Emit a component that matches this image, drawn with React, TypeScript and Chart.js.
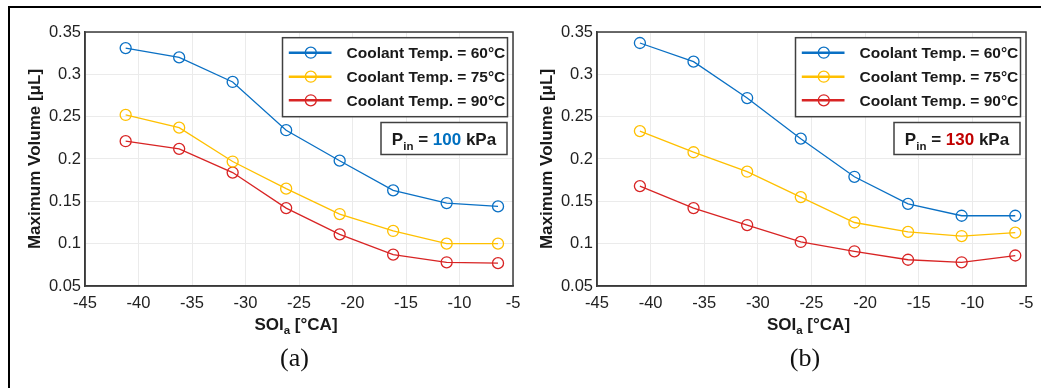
import React, { useEffect, useRef } from 'react';
import { Chart, registerables } from 'chart.js';

Chart.register(...registerables);

// ---- data ----
const xLeft = [-41.2, -36.2, -31.2, -26.2, -21.2, -16.2, -11.2, -6.4];
const xRight = [-41, -36, -31, -26, -21, -16, -11, -6];

const left60 = [0.331, 0.32, 0.291, 0.234, 0.198, 0.163, 0.148, 0.144];
const left75 = [0.252, 0.237, 0.197, 0.165, 0.135, 0.115, 0.1, 0.1];
const left90 = [0.221, 0.212, 0.184, 0.142, 0.111, 0.087, 0.078, 0.077];

const right60 = [0.337, 0.315, 0.272, 0.224, 0.179, 0.147, 0.133, 0.133];
const right75 = [0.233, 0.208, 0.185, 0.155, 0.125, 0.114, 0.109, 0.113];
const right90 = [0.168, 0.142, 0.122, 0.102, 0.091, 0.081, 0.078, 0.086];

const seriesLabels = ['Coolant Temp. = 60°C', 'Coolant Temp. = 75°C', 'Coolant Temp. = 90°C'];
const seriesColors = ['#0A70C4', '#FFC000', '#D82424'];

const yTickLabels = ['0.05', '0.1', '0.15', '0.2', '0.25', '0.3', '0.35'];
const xMin = -45;
const xMax = -5;
const xStep = 5;

const yTitle = 'Maximum Volume [μL]';
const xTitleMain = 'SOI';
const xTitleSub = 'a';
const xTitleRest = ' [°CA]';
const captions = ['(a)', '(b)'];
const pressures = ['100', '130'];
const pressureColors = ['#0070C0', '#C00000'];

const SANS = '"Liberation Sans", Arial, sans-serif';
const CANVAS_H = 345;

function makeOverlay(pValue: string, pColor: string) {
  return {
    id: 'overlay',
    afterDraw(chart: any) {
      const ctx: CanvasRenderingContext2D = chart.ctx;
      const ca = chart.chartArea;
      ctx.save();
      // plot frame
      ctx.strokeStyle = '#3a3a3a';
      ctx.lineWidth = 1.5;
      ctx.strokeRect(ca.left, ca.top, ca.right - ca.left, ca.bottom - ca.top);

      // legend box
      const bw = 225;
      const bh = 79;
      const bx = ca.right - 5.5 - bw;
      const by = ca.top + 5.7;
      ctx.fillStyle = '#ffffff';
      ctx.fillRect(bx, by, bw, bh);
      ctx.strokeStyle = '#404040';
      ctx.lineWidth = 1.5;
      ctx.strokeRect(bx, by, bw, bh);
      const rows = [15, 39, 62.6];
      chart.data.datasets.forEach((ds: any, i: number) => {
        const y = by + rows[i];
        ctx.strokeStyle = ds.borderColor;
        ctx.lineWidth = 2.5;
        ctx.beginPath();
        ctx.moveTo(bx + 6.3, y);
        ctx.lineTo(bx + 49, y);
        ctx.stroke();
        ctx.lineWidth = 1.3;
        ctx.beginPath();
        ctx.arc(bx + 28.3, y, 5.5, 0, Math.PI * 2);
        ctx.stroke();
        ctx.fillStyle = '#1a1a1a';
        ctx.font = `bold 15.5px ${SANS}`;
        ctx.textAlign = 'left';
        ctx.textBaseline = 'middle';
        ctx.fillText(ds.label, bx + 64, y + 1);
      });

      // pressure box
      const pw = 126;
      const ph = 32;
      const px = ca.right - 6 - pw;
      const py = ca.top + 90.5;
      ctx.fillStyle = '#ffffff';
      ctx.fillRect(px, py, pw, ph);
      ctx.strokeStyle = '#404040';
      ctx.lineWidth = 1.5;
      ctx.strokeRect(px, py, pw, ph);
      const big = `bold 17px ${SANS}`;
      const small = `bold 11.5px ${SANS}`;
      const parts: [string, string, string, number][] = [
        ['P', big, '#1a1a1a', 0],
        ['in', small, '#1a1a1a', 5],
        [' = ', big, '#1a1a1a', 0],
        [pValue, big, pColor, 0],
        [' kPa', big, '#1a1a1a', 0],
      ];
      let total = 0;
      parts.forEach((p) => {
        ctx.font = p[1];
        total += ctx.measureText(p[0]).width;
      });
      let cx = px + pw / 2 - total / 2;
      const base = py + ph / 2 + 6;
      ctx.textAlign = 'left';
      ctx.textBaseline = 'alphabetic';
      parts.forEach((p) => {
        ctx.font = p[1];
        ctx.fillStyle = p[2];
        ctx.fillText(p[0], cx, base + p[3]);
        cx += ctx.measureText(p[0]).width;
      });

      // y title
      ctx.save();
      ctx.translate(ca.left - 50, (ca.top + ca.bottom) / 2);
      ctx.rotate(-Math.PI / 2);
      ctx.font = `bold 17px ${SANS}`;
      ctx.fillStyle = '#1a1a1a';
      ctx.textAlign = 'center';
      ctx.textBaseline = 'middle';
      ctx.fillText(yTitle, 0, 0);
      ctx.restore();

      // x title
      const xparts: [string, string, number][] = [
        [xTitleMain, big, 0],
        [xTitleSub, small, 4],
        [xTitleRest, big, 0],
      ];
      let tw = 0;
      xparts.forEach((p) => {
        ctx.font = p[1];
        tw += ctx.measureText(p[0]).width;
      });
      let tx = (ca.left + ca.right) / 2 - 3 - tw / 2;
      const tb = ca.bottom + 44;
      ctx.fillStyle = '#1a1a1a';
      ctx.textAlign = 'left';
      ctx.textBaseline = 'alphabetic';
      xparts.forEach((p) => {
        ctx.font = p[1];
        ctx.fillText(p[0], tx, tb + p[2]);
        tx += ctx.measureText(p[0]).width;
      });
      ctx.restore();
    },
  };
}

interface PanelProps {
  left: number;
  width: number;
  yAxisWidth: number;
  padRight: number;
  xs: number[];
  series: number[][];
  pValue: string;
  pColor: string;
}

function Panel({ left, width, yAxisWidth, padRight, xs, series, pValue, pColor }: PanelProps) {
  const ref = useRef<HTMLCanvasElement>(null);
  useEffect(() => {
    if (!ref.current) return;
    const datasets = series.map((ys, i) => ({
      label: seriesLabels[i],
      data: xs.map((x, j) => ({ x, y: ys[j] })),
      borderColor: seriesColors[i],
      backgroundColor: 'rgba(0,0,0,0)',
      borderWidth: 1.3,
      pointRadius: 5.5,
      pointBorderWidth: 1.3,
      pointBackgroundColor: 'rgba(0,0,0,0)',
      pointBorderColor: seriesColors[i],
      tension: 0,
      fill: false,
    }));
    const tickFont = { family: SANS, size: 16.5 };
    const chart = new Chart(ref.current, {
      type: 'line',
      data: { datasets },
      options: {
        responsive: false,
        animation: false,
        devicePixelRatio: 1,
        layout: { padding: { top: 32, right: padRight, left: 0, bottom: 0 } },
        plugins: { legend: { display: false }, tooltip: { enabled: false } },
        scales: {
          x: {
            type: 'linear',
            min: xMin,
            max: xMax,
            ticks: { stepSize: xStep, font: tickFont, color: '#222', padding: 8, maxRotation: 0 },
            grid: { color: '#ebebeb', drawTicks: false },
            border: { display: true, color: '#3a3a3a', width: 1.5 },
            afterFit: (s: any) => {
              s.height = CANVAS_H - 286;
              s.paddingLeft = 0;
              s.paddingRight = 0;
            },
          },
          y: {
            type: 'linear',
            min: 0.05,
            max: 0.35,
            ticks: {
              stepSize: 0.05,
              font: tickFont,
              color: '#222',
              padding: 4,
              callback: (v: any) => yTickLabels[Math.round((Number(v) - 0.05) / 0.05)],
            },
            grid: { color: '#ebebeb', drawTicks: false },
            border: { display: true, color: '#3a3a3a', width: 1.5 },
            afterFit: (s: any) => {
              s.width = yAxisWidth;
              s.paddingTop = 0;
              s.paddingBottom = 0;
            },
          },
        },
      } as any,
      plugins: [makeOverlay(pValue, pColor)],
    });
    return () => chart.destroy();
  }, []);
  return (
    <canvas
      ref={ref}
      width={width}
      height={CANVAS_H}
      style={{ position: 'absolute', left, top: 0, width, height: CANVAS_H, display: 'block' }}
    />
  );
}

export default function App() {
  return (
    <div style={{ position: 'absolute', left: 0, top: 0, width: 1041, height: 388, background: '#fff', overflow: 'hidden' }}>
      <div style={{ position: 'absolute', left: 8, top: 6, width: 1033, height: 2, background: '#000' }} />
      <div style={{ position: 'absolute', left: 8, top: 6, width: 2, height: 382, background: '#000' }} />
      <Panel
        left={0}
        width={520}
        yAxisWidth={85}
        padRight={7}
        xs={xLeft}
        series={[left60, left75, left90]}
        pValue={pressures[0]}
        pColor={pressureColors[0]}
      />
      <Panel
        left={520}
        width={521}
        yAxisWidth={77}
        padRight={15}
        xs={xRight}
        series={[right60, right75, right90]}
        pValue={pressures[1]}
        pColor={pressureColors[1]}
      />
      {captions.map((c, i) => (
        <div
          key={c}
          style={{
            position: 'absolute',
            left: i === 0 ? 294.5 - 40 : 805 - 40,
            width: 80,
            top: 343,
            textAlign: 'center',
            fontFamily: '"Liberation Serif", "Times New Roman", serif',
            fontSize: 26,
            lineHeight: '30px',
            color: '#111',
          }}
        >
          {c}
        </div>
      ))}
    </div>
  );
}
